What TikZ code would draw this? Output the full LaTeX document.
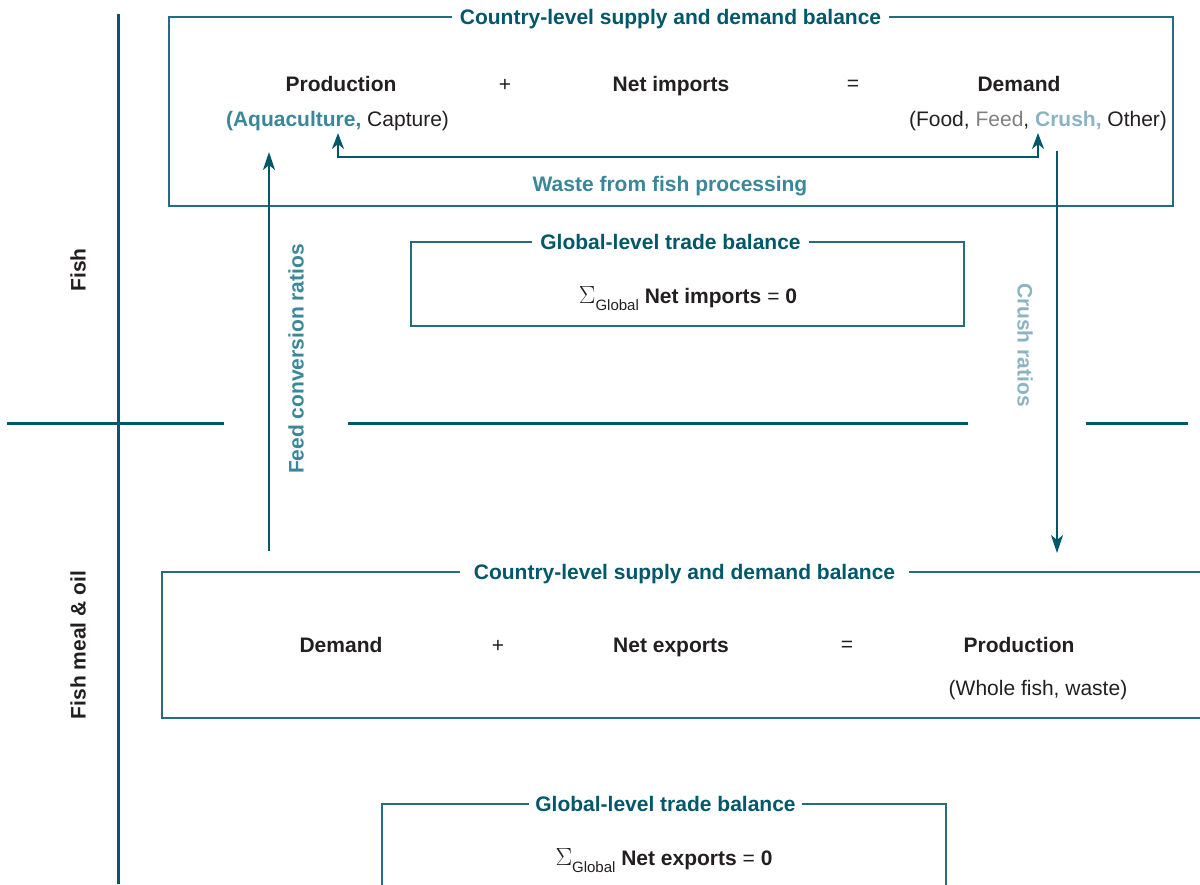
\documentclass[tikz,border=0pt]{standalone}
\usepackage{fontspec}
\setmainfont{Liberation Sans}
\usetikzlibrary{arrows.meta}
\definecolor{darkteal}{RGB}{0,88,106}
\definecolor{boxteal}{RGB}{36,108,126}
\definecolor{midteal}{RGB}{58,135,153}
\definecolor{lightteal}{RGB}{138,180,194}
\definecolor{feedgray}{RGB}{128,128,128}
\definecolor{textdark}{RGB}{35,31,32}
\begin{document}
\begin{tikzpicture}[x=1pt,y=-1pt,
  every node/.style={inner sep=0pt},
  term/.style={font=\fontsize{21}{25}\selectfont\bfseries, text=textdark, text height=15.3pt, text depth=0pt},
  op/.style={font=\fontsize{21}{25}\selectfont, text=textdark},
  boxtitle/.style={font=\fontsize{21}{25}\selectfont\bfseries, text=darkteal, fill=white, inner xsep=8pt, inner ysep=2pt, text height=15pt, text depth=0pt},
  sidelabel/.style={font=\fontsize{21}{25}\selectfont\bfseries, rotate=90},
  frame/.style={draw=boxteal, line width=1.5pt},
  divider/.style={draw=darkteal, line width=3pt},
  arr/.style={draw=darkteal, line width=2pt, -{Stealth[length=18pt,width=12pt,inset=5pt]}},
  warr/.style={draw=darkteal, line width=2.7pt, {Stealth[length=16pt,width=12pt,inset=5pt]}-{Stealth[length=16pt,width=12pt,inset=5pt]}}
]
\useasboundingbox (0,0) rectangle (1200,884);
\clip (0,0) rectangle (1200,884);

% dividers
\draw[divider] (118,14) -- (118,884);
\draw[divider] (7,423) -- (224,423);
\draw[divider] (348,423) -- (968,423);
\draw[divider] (1086,423) -- (1188,423);

\node[sidelabel, text=textdark] (fishlab) at (78,270) {Fish};
\node[sidelabel, text=textdark] (meallab) at (78,645) {Fish meal \& oil};

% top country box
\draw[frame] (169,17) rectangle (1173,206);
\node[boxtitle] (t1) at (670.5,17) {Country-level supply and demand balance};
\node[term] (prod1) at (341,84) {Production};
\node[op] (plus1) at (505,85) {+};
\node[term] (netimp) at (671,84) {Net imports};
\node[op] (eq1) at (853,85) {=};
\node[term] (dem1) at (1019,84) {Demand};
\node[op] (prodsub) at (337.5,121) {\textcolor{midteal}{\bfseries(Aquaculture,} Capture)};
\node[op] (demsub) at (1038,121) {(Food, \textcolor{feedgray}{Feed}, \textcolor{lightteal}{\bfseries Crush,} Other)};

\coordinate (wTipL) at (338,133);
\coordinate (wCornL) at (338,157);
\coordinate (wCornR) at (1038,157);
\coordinate (wTipR) at (1038,133);
\draw[warr] (wTipL) -- (wCornL) -- (wCornR) -- (wTipR);
\node[term, text=midteal] (waste) at (670,184) {Waste from fish processing};

% top global box
\draw[frame] (411,242) rectangle (964,326);
\node[boxtitle] (t2) at (670.5,242) {Global-level trade balance};
\node[op, anchor=base] (sum1) at (688,303) {{\fontsize{26}{30}\selectfont$\Sigma$}\raisebox{-7pt}{\fontsize{15}{18}\selectfont Global} \textbf{Net imports} = \textbf{0}};

% feed conversion arrow
\coordinate (feedStart) at (269,551);
\coordinate (feedTip) at (269,152);
\draw[arr] (feedStart) -- (feedTip);
\node[sidelabel, text=midteal] (feedlab) at (296,359) {Feed conversion ratios};

% crush arrow
\coordinate (crushStart) at (1057,151);
\coordinate (crushTip) at (1057,553);
\draw[arr] (crushStart) -- (crushTip);
\node[sidelabel, rotate=180, text=lightteal] (crushlab) at (1025,345) {Crush ratios};

% bottom country box
\draw[frame] (162,572) rectangle (1215,718);
\node[boxtitle, inner xsep=14pt] (t3) at (684.5,572) {Country-level supply and demand balance};
\node[term] (dem2) at (341,645) {Demand};
\node[op] (plus2) at (498,646) {+};
\node[term] (netexp) at (671,645) {Net exports};
\node[op] (eq2) at (847,646) {=};
\node[term] (prod2) at (1019,645) {Production};
\node[op] (prod2sub) at (1038,690) {(Whole fish, waste)};

% bottom global box
\draw[frame] (382,804) rectangle (946,900);
\node[boxtitle, inner xsep=6pt] (t4) at (665.5,804) {Global-level trade balance};
\node[op, anchor=base] (sum2) at (664,865) {{\fontsize{26}{30}\selectfont$\Sigma$}\raisebox{-7pt}{\fontsize{15}{18}\selectfont Global} \textbf{Net exports} = \textbf{0}};
\end{tikzpicture}
\end{document}
